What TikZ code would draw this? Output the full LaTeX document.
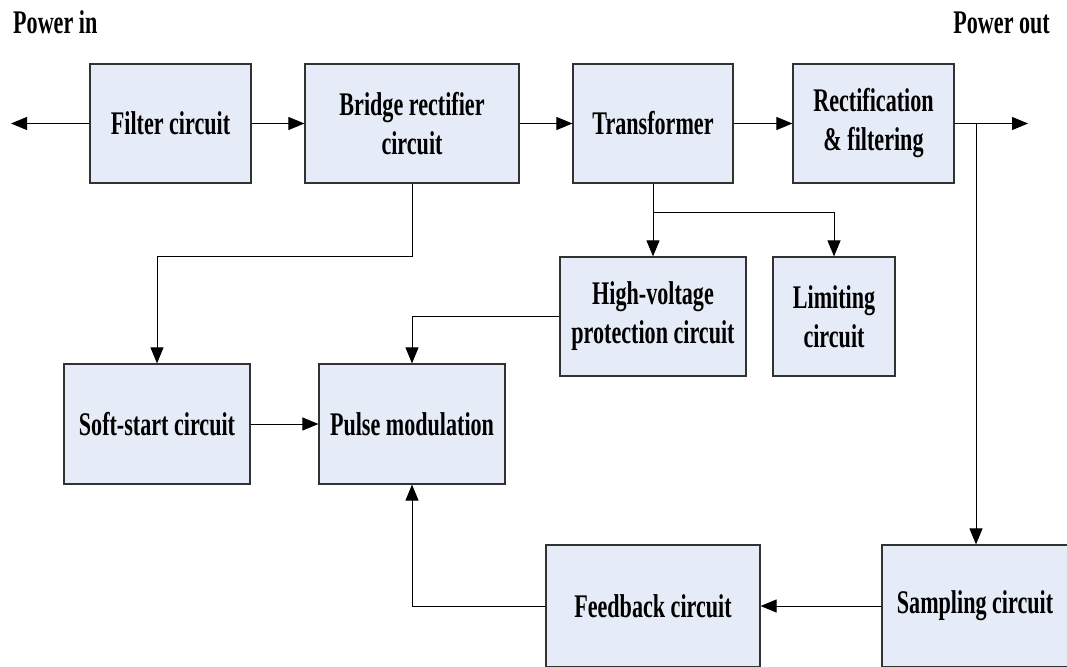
\documentclass[tikz,border=0pt]{standalone}
\usepackage{fontspec}
\setmainfont{Liberation Serif}[FakeStretch=0.67]
\usepackage{tikz}
\usetikzlibrary{arrows.meta, positioning}
\definecolor{blocoFill}{RGB}{230,236,247}
\definecolor{blocoDraw}{RGB}{50,50,50}

\begin{document}
\begin{tikzpicture}[
    x=1pt, y=-1pt,
    blockbox/.style={draw=blocoDraw, fill=blocoFill, line width=1.2pt, inner sep=0pt, minimum height=119pt, align=center, font=\fontsize{33}{39}\selectfont\bfseries},
    arrow/.style={line width=1pt, -{Triangle[length=16pt, width=13pt]}, draw=black},
    label/.style={font=\fontsize{33}{39}\selectfont\bfseries, inner sep=0pt}
]
    \path[use as bounding box, clip] (0,0) rectangle (1067,666);

    \node[label, anchor=base west] (pin) at (13,34) {Power in};
    \node[label, anchor=base east] (pout) at (1050,34) {Power out};

    \node[blockbox, minimum width=161pt] (filter) at (170.5, 123.5) {Filter circuit};
    \node[blockbox, minimum width=214pt] (bridge) at (412, 123.5) {Bridge rectifier\\circuit};
    \node[blockbox, minimum width=160pt] (trafo) at (653, 123.5) {Transformer};
    \node[blockbox, minimum width=161pt] (rectif) at (873.5, 123.5) {Rectification\\\& filtering};

    \node[blockbox, minimum width=186pt] (hvprot) at (653, 316.5) {High-voltage\\protection circuit};
    \node[blockbox, minimum width=122pt] (limit) at (834, 316.5) {Limiting\\circuit};

    \node[blockbox, minimum width=186pt, minimum height=120pt] (softstart) at (157, 424) {Soft-start circuit};
    \node[blockbox, minimum width=186pt, minimum height=120pt] (pulse) at (412, 424) {Pulse modulation};

    \node[blockbox, minimum width=214pt, minimum height=122pt] (feedback) at (653, 606) {Feedback circuit};
    \node[blockbox, minimum width=186pt, minimum height=122pt] (sampling) at (975, 606) {Sampling circuit};

    \coordinate (intip) at (11, 123.5);
    \coordinate (outtip) at (1028, 123.5);
    \coordinate (tap) at (976, 123.5);
    \coordinate (branch) at (653, 212);

    % main power path
    \draw[arrow] (filter.west) -- (intip);
    \draw[arrow] (filter) -- (bridge);
    \draw[arrow] (bridge) -- (trafo);
    \draw[arrow] (trafo) -- (rectif);
    \draw[arrow] (rectif.east) -- (outtip);

    % control side
    \draw[arrow] (bridge.south) -- ++(0,73) -| (softstart.north);
    \draw[arrow] (trafo.south) -- (hvprot.north);
    \draw[arrow] (branch) -| (limit.north);
    \draw[arrow] (hvprot.west) -| (pulse.north);
    \draw[arrow] (softstart) -- (pulse);
    \draw[arrow] (tap) -- (tap |- sampling.north);
    \draw[arrow] (sampling) -- (feedback);
    \draw[arrow] (feedback.west) -| (pulse.south);
\end{tikzpicture}
\end{document}
